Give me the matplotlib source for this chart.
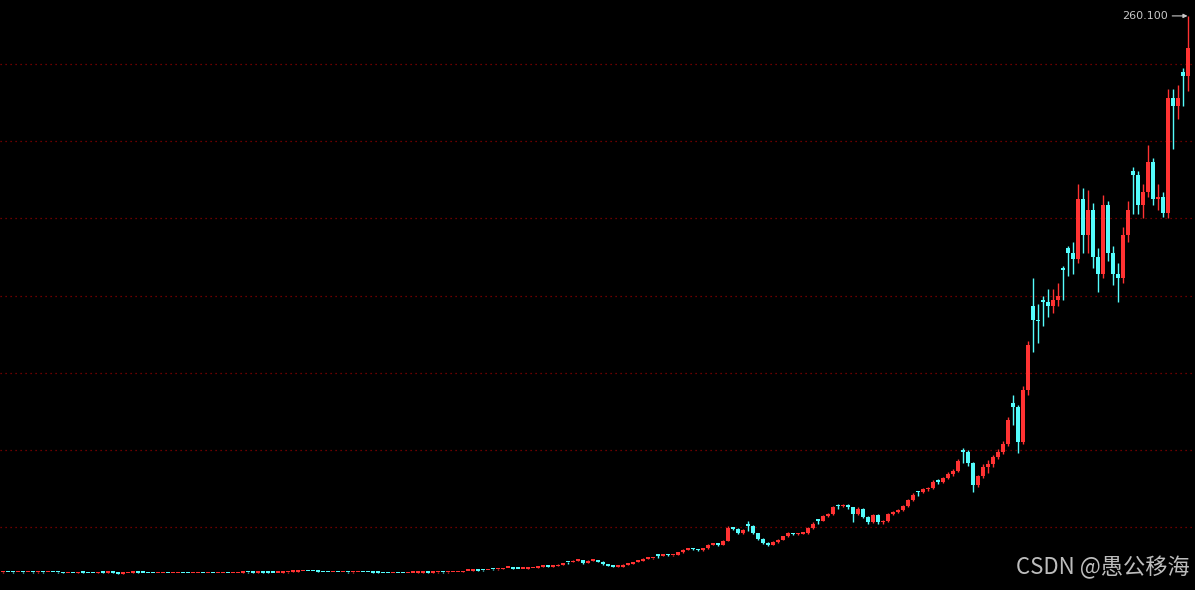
import matplotlib
matplotlib.use("Agg")
import matplotlib.pyplot as plt
import numpy as np

# weekly candles (price units)
opens = [
    1.30, 1.35, 1.33, 1.30, 1.35, 1.30, 1.32, 1.28, 1.33, 1.30,
    1.35, 1.30, 1.25, 0.84, 0.88, 0.85, 1.20, 1.05, 0.90, 0.88,
    1.25, 1.15, 1.25, 1.20, 0.70, 0.90, 1.10, 1.20, 1.15, 1.05,
    0.95, 0.90, 0.92, 0.95, 0.90, 0.92, 0.95, 0.90, 0.88, 0.92,
    0.95, 0.90, 0.93, 0.90, 0.92, 0.95, 0.90, 0.95, 1.10, 1.30,
    1.25, 1.15, 1.30, 1.20, 1.15, 1.10, 1.15, 1.25, 1.60, 1.70,
    1.85, 1.90, 1.85, 1.80, 1.45, 1.40, 1.35, 1.40, 1.30, 1.35,
    1.25, 1.35, 1.40, 1.35, 1.30, 1.20, 1.00, 0.95, 0.90, 1.00,
    0.95, 0.90, 1.00, 1.10, 1.20, 1.25, 1.20, 1.25, 1.30, 1.25,
    1.30, 1.35, 1.40, 1.90, 1.95, 2.20, 2.30, 2.25, 2.75, 2.70,
    2.75, 3.30, 3.40, 2.90, 2.85, 2.95, 3.25, 3.30, 3.90, 4.00,
    3.95, 4.10, 4.95, 6.10, 6.00, 6.80, 7.10, 5.60, 6.80, 7.00,
    6.30, 5.00, 4.20, 3.90, 4.00, 4.90, 5.40, 6.10, 6.80, 7.70,
    7.80, 9.10, 9.00, 9.60, 9.20, 9.40, 10.7, 11.8, 12.2, 12.0,
    11.5, 12.5, 14.0, 14.6, 14.0, 16.0, 22.0, 21.5, 19.5, 23.5,
    23.0, 19.5, 17.0, 15.0, 14.0, 15.5, 16.5, 18.0, 19.5, 19.0,
    19.3, 19.5, 22.0, 25.5, 25.2, 27.5, 28.5, 32.5, 32.0, 32.5,
    31.5, 28.5, 31.0, 27.0, 24.5, 28.0, 24.5, 25.0, 28.5, 29.5,
    30.5, 32.0, 35.0, 38.8, 38.5, 40.0, 40.5, 44.0, 43.5, 45.0,
    47.0, 48.5, 58.0, 57.5, 52.0, 42.0, 46.0, 50.5, 51.5, 55.0,
    57.5, 61.0, 80.0, 78.0, 62.0, 86.0, 125.0, 118.5, 128.0, 127.0,
    125.0, 128.0, 143.0, 152.0, 150.0, 147.0, 175.0, 158.0, 170.0, 148.0,
    140.0, 172.0, 150.0, 140.0, 138.0, 158.0, 188.0, 186.0, 172.0, 178.0,
    192.0, 175.0, 176.0, 168.5, 222.0, 218.0, 234.0, 232.0,
]
highs = [
    1.45, 1.45, 1.40, 1.45, 1.42, 1.40, 1.40, 1.42, 1.40, 1.45,
    1.42, 1.35, 1.28, 0.95, 0.95, 1.30, 1.25, 1.10, 0.95, 1.32,
    1.30, 1.32, 1.30, 1.22, 0.95, 1.15, 1.28, 1.25, 1.20, 1.10,
    1.00, 0.98, 1.00, 0.98, 0.97, 1.00, 0.98, 0.94, 0.97, 1.00,
    0.98, 0.98, 0.96, 0.97, 1.00, 0.98, 1.00, 1.15, 1.38, 1.35,
    1.30, 1.38, 1.35, 1.25, 1.20, 1.22, 1.30, 1.68, 1.78, 1.92,
    2.00, 1.95, 1.90, 1.85, 1.50, 1.45, 1.48, 1.45, 1.42, 1.40,
    1.42, 1.48, 1.45, 1.40, 1.35, 1.25, 1.05, 1.00, 1.05, 1.05,
    1.00, 1.05, 1.15, 1.25, 1.30, 1.30, 1.30, 1.38, 1.35, 1.38,
    1.42, 1.48, 1.98, 2.05, 2.30, 2.28, 2.35, 2.40, 2.80, 2.85,
    3.45, 3.55, 3.45, 3.00, 3.05, 3.35, 3.45, 4.05, 4.15, 4.10,
    4.25, 5.10, 5.60, 6.20, 7.00, 7.40, 7.20, 7.00, 7.30, 7.10,
    6.40, 5.10, 4.30, 4.15, 5.00, 5.55, 6.20, 6.95, 7.90, 8.00,
    8.20, 9.20, 9.90, 9.80, 9.60, 10.9, 12.0, 12.6, 12.5, 12.2,
    12.8, 14.4, 15.0, 14.9, 16.4, 22.8, 22.6, 21.8, 21.5, 25.0,
    23.4, 19.8, 17.3, 15.4, 15.9, 16.9, 18.4, 20.0, 19.8, 19.7,
    19.9, 22.5, 24.5, 25.6, 28.0, 29.0, 32.0, 33.0, 33.2, 33.0,
    31.9, 31.5, 31.3, 27.4, 28.4, 28.3, 25.5, 29.0, 30.0, 31.0,
    32.5, 35.5, 38.0, 39.0, 40.5, 41.2, 44.2, 44.5, 45.6, 47.8,
    49.2, 54.0, 59.0, 58.0, 52.5, 46.8, 51.5, 53.5, 56.0, 58.5,
    62.5, 73.5, 84.0, 79.0, 88.0, 109.0, 138.0, 126.0, 130.0, 133.0,
    133.0, 136.0, 144.0, 153.0, 155.0, 182.0, 180.0, 179.0, 173.0, 152.0,
    177.0, 174.0, 153.0, 145.0, 162.0, 174.0, 190.0, 188.0, 182.0, 200.0,
    194.0, 182.0, 178.0, 226.0, 226.0, 228.0, 236.0, 260.1,
]
lows = [
    1.20, 1.25, 1.22, 1.25, 1.22, 1.25, 1.20, 1.22, 1.22, 1.25,
    1.25, 1.15, 0.80, 0.78, 0.78, 0.82, 1.00, 0.85, 0.82, 0.85,
    1.10, 1.12, 1.15, 0.62, 0.65, 0.85, 1.05, 1.10, 1.00, 0.90,
    0.85, 0.86, 0.88, 0.85, 0.86, 0.88, 0.85, 0.82, 0.85, 0.88,
    0.85, 0.86, 0.85, 0.86, 0.88, 0.85, 0.86, 0.92, 1.05, 1.20,
    1.10, 1.12, 1.15, 1.10, 1.05, 1.05, 1.10, 1.22, 1.55, 1.65,
    1.80, 1.80, 1.72, 1.40, 1.35, 1.30, 1.30, 1.25, 1.25, 1.20,
    1.22, 1.30, 1.30, 1.25, 1.15, 0.95, 0.90, 0.85, 0.88, 0.90,
    0.85, 0.88, 0.95, 1.05, 1.15, 1.15, 1.15, 1.20, 1.20, 1.20,
    1.25, 1.30, 1.38, 1.85, 1.90, 2.05, 2.10, 2.20, 2.25, 2.60,
    2.70, 3.20, 2.80, 2.75, 2.80, 2.90, 3.15, 3.25, 3.80, 3.85,
    3.90, 4.05, 4.90, 5.30, 5.90, 6.60, 5.40, 5.50, 6.60, 6.10,
    4.80, 4.10, 3.80, 3.80, 3.95, 4.80, 5.30, 6.00, 6.70, 7.40,
    7.60, 7.90, 8.90, 9.00, 9.00, 9.30, 10.5, 11.6, 11.7, 11.2,
    11.3, 12.3, 13.8, 13.6, 13.8, 15.8, 20.8, 19.0, 19.2, 20.6,
    19.0, 16.5, 14.6, 13.5, 13.8, 15.0, 16.2, 17.8, 18.6, 18.7,
    19.0, 19.3, 21.7, 23.7, 25.0, 27.0, 28.2, 31.0, 31.6, 31.0,
    24.7, 28.0, 26.5, 24.0, 24.2, 24.0, 23.8, 24.8, 28.0, 29.0,
    30.0, 31.7, 34.6, 37.0, 38.0, 39.0, 40.0, 42.5, 43.0, 44.5,
    46.2, 48.0, 52.0, 51.0, 38.7, 41.0, 45.0, 47.5, 50.5, 54.0,
    56.5, 60.0, 70.0, 56.8, 61.0, 84.0, 104.0, 108.0, 116.0, 120.0,
    122.0, 125.0, 128.0, 139.0, 140.0, 145.0, 150.0, 150.0, 143.0, 131.7,
    138.0, 146.0, 135.0, 127.0, 136.0, 155.0, 168.0, 168.0, 166.0, 176.0,
    172.0, 170.0, 166.6, 166.0, 198.0, 212.0, 218.0, 225.0,
]
closes = [
    1.33, 1.33, 1.30, 1.35, 1.30, 1.32, 1.28, 1.33, 1.30, 1.35,
    1.30, 1.25, 0.86, 0.88, 0.85, 1.20, 1.05, 0.90, 0.88, 1.25,
    1.15, 1.25, 1.20, 0.70, 0.90, 1.10, 1.20, 1.15, 1.05, 0.95,
    0.90, 0.92, 0.95, 0.90, 0.92, 0.95, 0.90, 0.88, 0.92, 0.95,
    0.90, 0.93, 0.90, 0.92, 0.95, 0.90, 0.95, 1.10, 1.30, 1.25,
    1.15, 1.30, 1.20, 1.15, 1.10, 1.15, 1.25, 1.60, 1.70, 1.85,
    1.90, 1.85, 1.80, 1.45, 1.40, 1.35, 1.40, 1.30, 1.35, 1.25,
    1.35, 1.40, 1.35, 1.30, 1.20, 1.00, 0.95, 0.90, 1.00, 0.95,
    0.90, 1.00, 1.10, 1.20, 1.25, 1.20, 1.25, 1.30, 1.25, 1.30,
    1.35, 1.40, 1.90, 1.95, 2.20, 2.15, 2.25, 2.30, 2.70, 2.75,
    3.30, 3.40, 2.90, 2.85, 2.95, 3.25, 3.30, 3.90, 4.00, 3.95,
    4.10, 4.95, 5.40, 6.00, 6.80, 7.10, 5.60, 6.80, 7.00, 6.30,
    5.00, 4.20, 3.90, 4.00, 4.90, 5.40, 6.10, 6.80, 7.70, 7.80,
    8.00, 9.00, 9.60, 9.20, 9.40, 10.7, 11.8, 12.2, 12.0, 11.5,
    12.5, 14.0, 14.6, 14.0, 16.0, 22.0, 21.5, 19.5, 21.0, 23.0,
    19.5, 17.0, 15.0, 14.0, 15.5, 16.5, 18.0, 19.5, 19.0, 19.3,
    19.5, 22.0, 24.0, 25.2, 27.5, 28.5, 31.5, 32.0, 32.5, 31.5,
    28.5, 31.0, 27.0, 24.5, 28.0, 24.5, 25.0, 28.5, 29.5, 30.5,
    32.0, 35.0, 37.5, 38.5, 40.0, 40.5, 43.5, 43.5, 45.0, 47.0,
    48.5, 53.0, 57.5, 52.0, 42.0, 46.0, 50.5, 51.5, 55.0, 57.5,
    61.0, 72.0, 78.0, 62.0, 86.0, 107.0, 118.5, 118.0, 127.0, 125.0,
    128.0, 130.0, 142.0, 150.0, 147.0, 175.0, 158.0, 170.0, 148.0, 140.0,
    172.0, 150.0, 140.0, 138.0, 158.0, 170.0, 186.0, 172.0, 178.0, 192.0,
    175.0, 176.0, 168.5, 222.0, 218.0, 222.0, 232.0, 245.0,
]
grid_levels = [22.4, 58.2, 94.0, 129.8, 166.1, 201.9, 237.7]
max_label = "260.100"
watermark = "CSDN @愚公移海"

UP = "#ff3232"
DOWN = "#54fcfc"

o = np.array(opens)
h = np.array(highs)
l = np.array(lows)
c = np.array(closes)
x = np.arange(len(c))
colors = np.where(c >= o, UP, DOWN)

fig = plt.figure(figsize=(11.95, 5.90), dpi=100, facecolor="black")
ax = fig.add_axes([0, 0, 1, 1])
ax.set_facecolor("black")

for level in grid_levels:
    ax.axhline(level, color="#900000", linewidth=0.9, linestyle=(0, (1, 3)), zorder=1)

ax.vlines(x, l, h, colors=colors, linewidth=1.0, zorder=2)
# keep flat weeks visible as a thin line, like the original terminal does
body_bottom = np.minimum(o, c)
body_height = np.maximum(np.abs(c - o), 0.75)
ax.bar(x, body_height, bottom=body_bottom, width=0.8, color=colors, linewidth=0, zorder=3)

top = int(np.argmax(h))
ax.annotate(max_label, xy=(x[top], h[top]), xytext=(-14, 0), textcoords="offset points",
            ha="right", va="center", fontsize=8, color="#c8c8c8",
            arrowprops=dict(arrowstyle="-|>", color="#c8c8c8", lw=0.8,
                            mutation_scale=6, shrinkA=1, shrinkB=0))

ax.set_xlim(-0.5, 238.5)
ax.set_ylim(-6.9, 267.5)
ax.axis("off")

fig.text(0.996, 0.018, watermark, ha="right", va="bottom", fontsize=16,
         color="#bdbdbd", family=["Noto Sans CJK SC", "DejaVu Sans"])

fig.savefig("out.png", dpi=100, facecolor="black")
